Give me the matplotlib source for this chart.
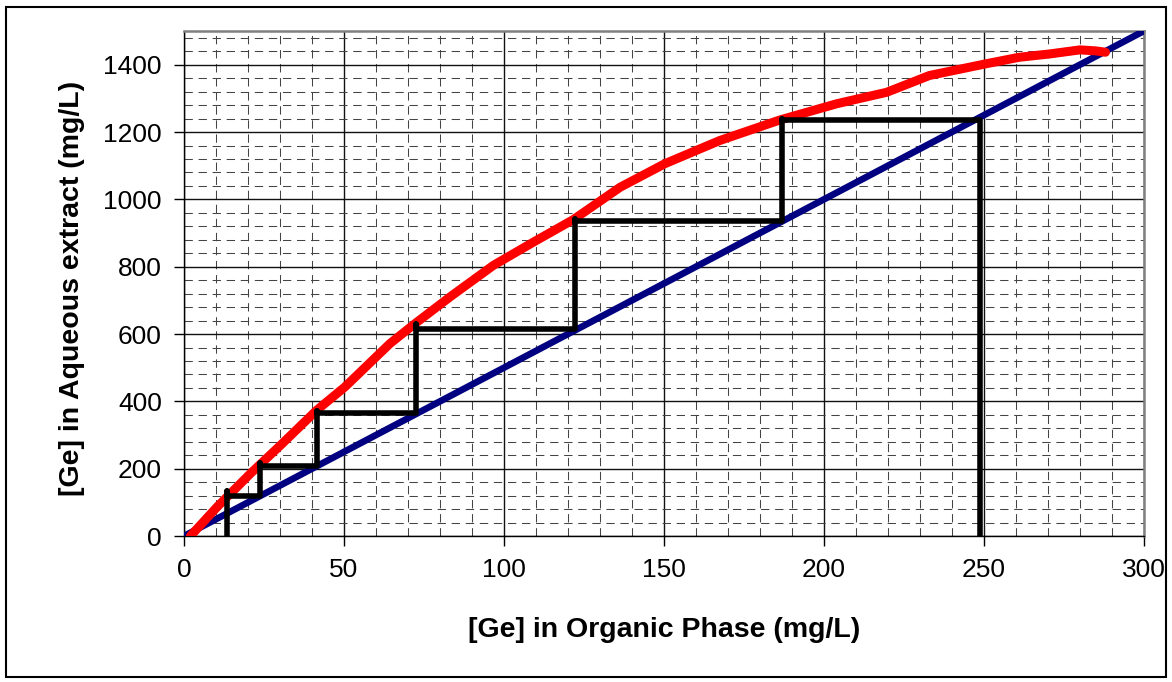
import matplotlib
matplotlib.use("Agg")
import matplotlib.pyplot as plt
from matplotlib.patches import Rectangle
from matplotlib.ticker import MultipleLocator

plt.rcParams["font.family"] = ["Liberation Sans", "DejaVu Sans"]

# equilibrium curve (red)
organic = [2, 10.4, 20.8, 30.2, 41.5, 50.3, 64.4, 72.2, 83.1, 96.7, 109.2, 121.7,
           136.3, 150.3, 167.5, 186.3, 204, 219.6, 233, 250.8, 261, 270.6, 280, 285, 288]
aqueous = [0, 87, 186, 270, 374, 443, 572, 631, 710, 804, 873, 940,
           1036, 1106, 1175, 1236, 1284, 1318, 1368, 1403, 1422, 1432, 1444, 1441, 1437]

# operating line (blue)
op_x = [0, 300]
op_y = [0, 1500]

# McCabe-Thiele steps (black)
step_x = [13.3, 13.3, 13.3, 23.7, 23.7, 23.7, 41.5, 41.5, 41.5, 72.5, 72.5, 72.5,
          122.2, 122.2, 122.2, 187.0, 187.0, 187.0, 248.8, 248.8]
step_y = [0, 133, 118, 118, 216, 208, 208, 372, 366, 366, 629, 614,
          614, 943, 936, 936, 1240, 1237, 1237, 0]

fig = plt.figure(figsize=(11.72, 6.82), dpi=100)
ax = fig.add_axes([0.157, 0.214, 0.819, 0.7405])

ax.plot(op_x, op_y, color="#000080", lw=4.8, zorder=3)
ax.plot(organic, aqueous, color="#FF0000", lw=6.5, zorder=4,
        solid_capstyle="round", solid_joinstyle="round")
ax.plot(step_x, step_y, color="black", lw=4, zorder=5,
        solid_capstyle="round", solid_joinstyle="round")

ax.set_xlim(0, 300)
ax.set_ylim(0, 1500)
ax.xaxis.set_major_locator(MultipleLocator(50))
ax.xaxis.set_minor_locator(MultipleLocator(10))
ax.yaxis.set_major_locator(MultipleLocator(200))
ax.yaxis.set_minor_locator(MultipleLocator(40))

ax.grid(which="major", color="#111111", lw=1.0, zorder=1)
ax.grid(which="minor", color="#444444", lw=0.75, linestyle=(0, (8, 5.5)), zorder=1)
ax.set_axisbelow(True)

ax.tick_params(which="major", direction="out", length=7, width=1, labelsize=19)
ax.tick_params(which="minor", length=0)
ax.tick_params(axis="x", pad=9)
ax.tick_params(axis="y", pad=9)

for side in ("top", "right"):
    ax.spines[side].set_color("#808080")
    ax.spines[side].set_linewidth(1.8)
for side in ("left", "bottom"):
    ax.spines[side].set_color("black")
    ax.spines[side].set_linewidth(1.0)

# axis titles placed where they sit in the source chart
fig.text(664 / 1172, 1 - 630 / 682, "[Ge] in Organic Phase (mg/L)",
         fontsize=20.5, fontweight="bold", ha="center", va="center")
fig.text(72 / 1172, 1 - 288 / 682, "[Ge] in Aqueous extract (mg/L)",
         fontsize=20.5, fontweight="bold", ha="center", va="center", rotation=90)

# chart area border
fig.patches.append(Rectangle((0.005, 0.007), 0.99, 0.983, transform=fig.transFigure,
                             fill=False, edgecolor="black", lw=1.5))

fig.savefig("out.png", dpi=100)
